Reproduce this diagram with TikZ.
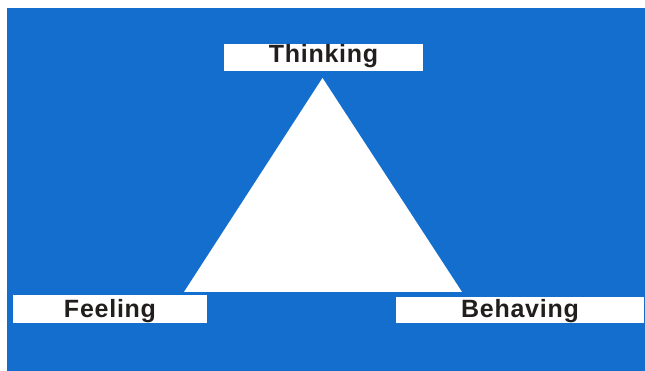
\documentclass[tikz,border=0pt]{standalone}
\usepackage{fontspec}
\setmainfont{Liberation Sans}
\definecolor{bgblue}{RGB}{20,110,205}
\definecolor{ink}{RGB}{34,30,30}
\begin{document}
\begin{tikzpicture}[x=1pt,y=-1pt,
  labelbox/.style={fill=white, inner sep=0pt, text=ink,
    font=\addfontfeature{LetterSpace=3}\fontsize{25}{27}\selectfont\bfseries}]
\useasboundingbox (0,0) rectangle (645,371);
\fill[white] (0,0) rectangle (645,371);
\fill[bgblue] (7,8) rectangle (645,371);
% triangle
\coordinate (apex) at (322.5,78);
\coordinate (bl) at (184,292);
\coordinate (br) at (462,292);
\fill[white] (apex) -- (bl) -- (br) -- cycle;
% labels
\node[labelbox, minimum width=199pt, text height=19pt, text depth=8pt] (thinking) at (323.5,57.5) {Thinking};
\node[labelbox, minimum width=194pt, text height=22pt, text depth=6pt] (feeling) at (110,309) {Feeling};
\node[labelbox, minimum width=248pt, text height=20pt, text depth=6pt] (behaving) at (520,310) {Behaving};
\end{tikzpicture}
\end{document}
